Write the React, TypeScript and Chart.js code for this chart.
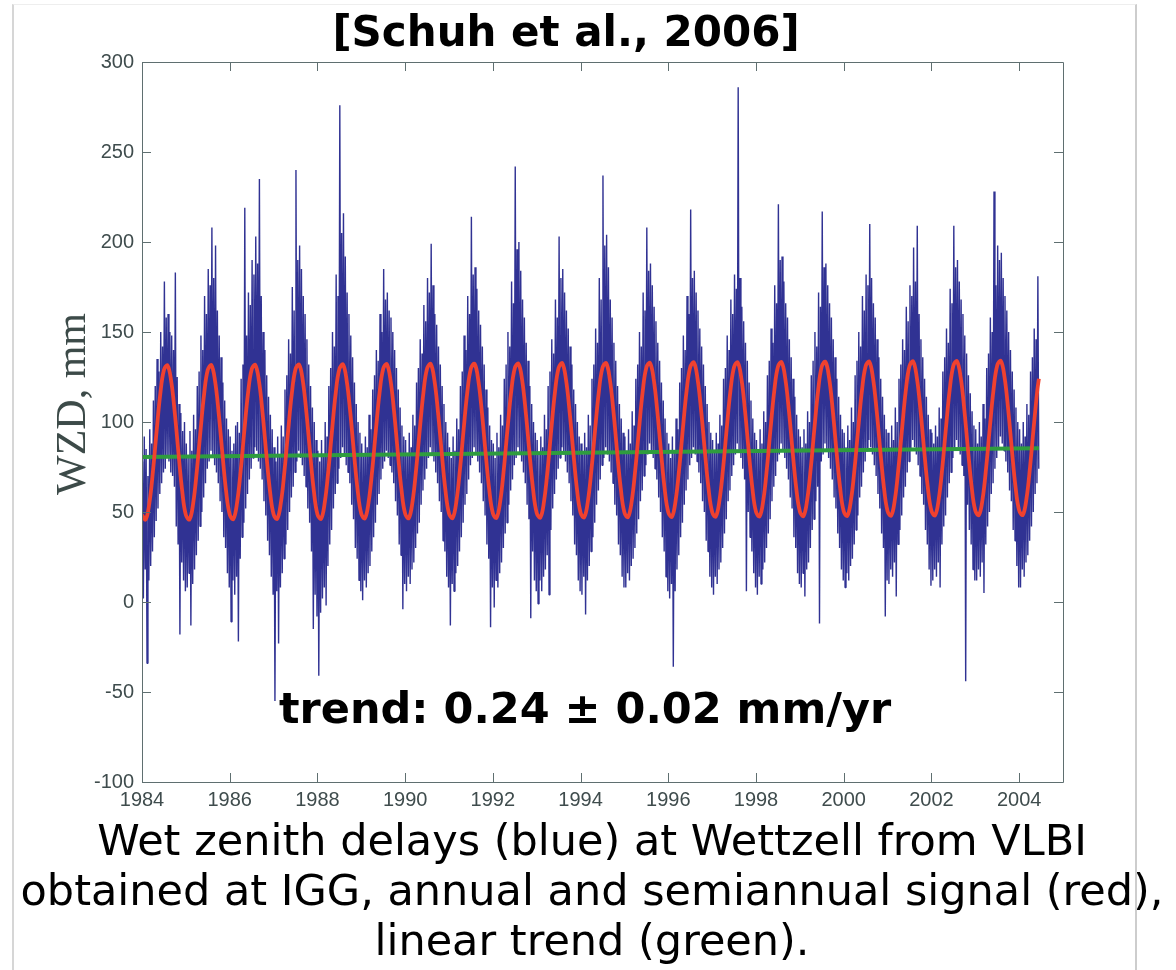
import React, { useEffect, useRef } from 'react';
import { Chart, registerables } from 'chart.js';

Chart.register(...registerables);

// ---------- axis ticks ----------
const xTickValues = [1984, 1986, 1988, 1990, 1992, 1994, 1996, 1998, 2000, 2002, 2004];
const yTickValues = [-100, -50, 0, 50, 100, 150, 200, 250, 300];
const X_MIN = 1984;
const X_MAX = 2005;

// ---------- wet zenith delays (blue), 48 samples per year: hi, lo, hi, lo per month ----------
const wzd1984 = [78,2,92,18, 85,-34,70,12, 96,20,88,28, 112,36,120,45, 135,52,128,60, 150,66,142,72, 178,74,158,80, 160,78,150,72, 148,70,140,64, 183,42,125,32, 110,-18,105,22, 95,12,100,6];
const wzd1985 = [88,8,80,16, 95,-13,84,10, 104,18,96,26, 120,34,128,42, 148,50,140,58, 170,66,160,74, 185,78,176,84, 208,80,180,76, 198,72,162,66, 148,56,136,50, 122,36,112,30, 102,16,96,8];
const wzd1986 = [92,-11,84,12, 88,4,98,14, 100,-22,94,24, 124,36,132,44, 219,52,148,60, 172,68,165,74, 190,80,182,86, 203,84,188,78, 235,74,170,68, 150,56,140,48, 126,34,114,26, 104,14,96,4];
const wzd1987 = [86,-55,78,6, 92,-23,82,8, 98,16,92,24, 118,32,126,40, 146,50,138,58, 175,64,162,72, 240,78,190,84, 198,80,185,76, 170,70,160,64, 146,52,132,44, 120,28,108,-15, 100,4,90,-8];
const wzd1988 = [84,-41,78,-6, 90,2,82,8, 100,-2,92,20, 120,32,130,40, 150,52,142,60, 182,66,170,74, 276,80,205,86, 216,82,192,76, 172,72,160,66, 148,54,136,46, 122,30,110,24, 100,12,94,6];
const wzd1989 = [88,1,82,12, 92,8,86,16, 104,20,96,28, 118,36,126,44, 140,54,134,60, 160,68,150,74, 185,78,168,84, 172,80,162,76, 158,72,150,66, 140,56,130,48, 118,32,108,26, 98,-4,92,10];
const wzd1990 = [90,6,82,14, 94,10,86,18, 104,22,98,30, 122,38,130,44, 146,54,138,62, 165,68,156,74, 180,80,172,86, 199,82,176,78, 160,72,154,66, 142,56,132,50, 120,34,110,28, 100,14,94,8];
const wzd1991 = [86,-13,80,10, 92,6,84,16, 102,20,96,28, 120,36,128,44, 148,54,140,60, 170,68,160,76, 214,80,182,86, 186,82,174,78, 162,72,154,66, 142,56,132,48, 118,32,108,24, 98,-14,90,8];
const wzd1992 = [88,-3,80,12, 94,8,86,16, 104,22,98,30, 124,38,132,44, 150,54,142,62, 178,68,166,76, 242,80,196,86, 200,82,184,78, 168,72,158,66, 144,54,134,46, 120,-9,110,28, 100,12,94,6];
const wzd1993 = [90,-1,82,12, 92,6,86,14, 104,18,96,26, 120,4,128,40, 146,52,138,60, 168,68,158,74, 203,80,180,86, 185,82,172,78, 162,72,152,66, 142,56,132,48, 118,32,110,26, 100,12,92,6];
const wzd1994 = [88,4,82,14, 94,-7,86,12, 104,20,98,28, 124,36,132,44, 152,54,144,62, 180,68,168,76, 237,80,198,86, 204,82,186,78, 168,72,158,66, 144,54,134,48, 120,32,110,26, 102,14,94,8];
const wzd1995 = [92,8,84,16, 96,12,88,20, 106,24,98,30, 124,38,132,46, 150,56,142,62, 172,70,162,76, 208,82,184,88, 188,84,176,80, 164,74,156,68, 144,58,134,50, 122,36,112,28, 102,14,94,6];
const wzd1996 = [88,2,80,10, 92,-36,84,6, 102,18,96,26, 122,36,130,44, 148,54,140,62, 170,68,160,76, 218,80,180,86, 184,82,172,78, 162,72,152,66, 142,56,132,50, 120,34,110,28, 100,14,94,8];
const wzd1997 = [90,4,84,14, 94,10,88,18, 104,22,98,30, 124,38,130,46, 148,56,140,62, 168,70,160,76, 182,82,174,88, 286,84,180,80, 164,74,156,68, 144,6,134,50, 122,36,112,28, 102,16,94,8];
const wzd1998 = [90,4,84,14, 96,10,88,18, 106,22,100,30, 126,38,134,46, 152,56,144,64, 176,70,166,78, 221,82,190,88, 192,84,178,80, 166,74,158,68, 146,58,136,52, 124,36,114,30, 104,16,96,10];
const wzd1999 = [92,8,86,16, 96,3,88,18, 106,22,100,30, 126,40,134,46, 150,56,142,64, 172,-12,164,78, 217,82,186,88, 188,84,176,80, 166,74,158,68, 146,58,136,52, 124,38,114,30, 104,18,96,12];
const wzd2000 = [94,8,86,16, 98,12,90,20, 108,24,100,32, 126,40,134,48, 150,58,142,64, 170,72,162,78, 182,84,176,90, 210,86,180,82, 166,76,158,70, 146,60,136,52, 124,38,114,30, 104,-8,96,12];
const wzd2001 = [94,10,86,18, 98,14,90,22, 108,3,100,32, 124,40,132,48, 146,58,140,64, 164,72,156,78, 176,84,170,90, 197,86,178,82, 209,76,160,70, 146,60,136,54, 124,40,114,32, 104,18,96,9];
const wzd2002 = [94,12,88,18, 98,14,92,22, 108,8,102,32, 128,42,136,48, 152,58,144,66, 174,72,166,80, 209,84,186,90, 190,86,178,82, 168,76,160,70, 148,-44,138,54, 126,40,116,32, 106,18,98,12];
const wzd2003 = [96,12,88,18, 100,14,92,22, 110,5,102,32, 130,42,138,50, 158,60,150,66, 228,74,176,80, 198,86,190,92, 194,88,180,84, 170,78,162,72, 150,62,140,56, 128,40,118,34, 108,20,100,8];
const wzd2004 = [96,8,88,18, 100,14,92,22, 110,26,104,34, 128,42,136,50, 152,60,146,66, 181,74];
const WZD_PER_YEAR = 48;

// ---------- annual + semiannual signal (red), monthly ----------
const sig1984 = [48.3,45.8,54.7,72.7,94.9,115.5,128.9,131.4,122.5,104.5,82.3,61.7];
const sig1985 = [48.4,45.9,54.8,72.8,95.0,115.6,129.0,131.5,122.6,104.6,82.4,61.8];
const sig1986 = [48.6,46.1,55.0,73.0,95.2,115.8,129.2,131.7,122.8,104.8,82.6,62.0];
const sig1987 = [48.7,46.2,55.1,73.1,95.3,115.9,129.3,131.8,122.9,104.9,82.7,62.1];
const sig1988 = [48.8,46.3,55.2,73.2,95.4,116.0,129.4,131.9,123.0,105.0,82.8,62.2];
const sig1989 = [49.0,46.5,55.4,73.4,95.6,116.2,129.6,132.1,123.2,105.2,83.0,62.4];
const sig1990 = [49.1,46.6,55.5,73.5,95.7,116.3,129.7,132.2,123.3,105.3,83.1,62.5];
const sig1991 = [49.2,46.7,55.6,73.6,95.8,116.4,129.8,132.3,123.4,105.4,83.2,62.6];
const sig1992 = [49.3,46.8,55.7,73.7,95.9,116.5,129.9,132.4,123.5,105.5,83.3,62.7];
const sig1993 = [49.5,47.0,55.9,73.9,96.1,116.7,130.1,132.6,123.7,105.7,83.5,62.9];
const sig1994 = [49.6,47.1,56.0,74.0,96.2,116.8,130.2,132.7,123.8,105.8,83.6,63.0];
const sig1995 = [49.7,47.2,56.1,74.1,96.3,116.9,130.3,132.8,123.9,105.9,83.7,63.1];
const sig1996 = [49.9,47.4,56.3,74.3,96.5,117.1,130.5,133.0,124.1,106.1,83.9,63.3];
const sig1997 = [50.0,47.5,56.4,74.4,96.6,117.2,130.6,133.1,124.2,106.2,84.0,63.4];
const sig1998 = [50.1,47.6,56.5,74.5,96.7,117.3,130.7,133.2,124.3,106.3,84.1,63.5];
const sig1999 = [50.3,47.8,56.7,74.7,96.9,117.5,130.9,133.4,124.5,106.5,84.3,63.7];
const sig2000 = [50.4,47.9,56.8,74.8,97.0,117.6,131.0,133.5,124.6,106.6,84.4,63.8];
const sig2001 = [50.5,48.0,56.9,74.9,97.1,117.7,131.1,133.6,124.7,106.7,84.5,63.9];
const sig2002 = [50.7,48.2,57.1,75.1,97.3,117.9,131.3,133.8,124.9,106.9,84.7,64.1];
const sig2003 = [50.8,48.3,57.2,75.2,97.4,118.0,131.4,133.9,125.0,107.0,84.8,64.2];
const sig2004 = [50.9,48.4,57.3,75.3,97.5,118.1,124.0];
const SIG_PER_YEAR = 12;

// ---------- linear trend (green) ----------
const trendYears = [1984, 2004.45];
const trendValues = [80.5, 85.4];

const wzdValues = [wzd1984, wzd1985, wzd1986, wzd1987, wzd1988, wzd1989, wzd1990, wzd1991, wzd1992, wzd1993, wzd1994, wzd1995, wzd1996, wzd1997, wzd1998, wzd1999, wzd2000, wzd2001, wzd2002, wzd2003, wzd2004].flat();
const sigValues = [sig1984, sig1985, sig1986, sig1987, sig1988, sig1989, sig1990, sig1991, sig1992, sig1993, sig1994, sig1995, sig1996, sig1997, sig1998, sig1999, sig2000, sig2001, sig2002, sig2003, sig2004].flat();

const AXIS_COLOR = '#5f6f70';
const LABEL_COLOR = '#3f4c4d';

const frameTicks = {
  id: 'frameTicks',
  afterDatasetsDraw(chart: any) {
    const { ctx, chartArea: a, scales } = chart;
    const x = scales.x;
    const y = scales.y;
    const L = 9;
    ctx.save();
    ctx.strokeStyle = AXIS_COLOR;
    ctx.lineWidth = 1;
    ctx.beginPath();
    ctx.rect(Math.round(a.left) + 0.5, Math.round(a.top) + 0.5, Math.round(a.right - a.left), Math.round(a.bottom - a.top));
    x.ticks.forEach((t: any) => {
      const px = Math.round(x.getPixelForValue(t.value)) + 0.5;
      ctx.moveTo(px, a.bottom);
      ctx.lineTo(px, a.bottom - L);
      ctx.moveTo(px, a.top);
      ctx.lineTo(px, a.top + L);
    });
    y.ticks.forEach((t: any) => {
      const py = Math.round(y.getPixelForValue(t.value)) + 0.5;
      ctx.moveTo(a.left, py);
      ctx.lineTo(a.left + L, py);
      ctx.moveTo(a.right, py);
      ctx.lineTo(a.right - L, py);
    });
    ctx.stroke();
    ctx.restore();
  },
};

export default function App() {
  const ref = useRef<HTMLCanvasElement | null>(null);

  useEffect(() => {
    if (!ref.current) return;
    const blue = wzdValues.map((v, i) => ({ x: X_MIN + (i + 0.5) / WZD_PER_YEAR, y: v }));
    const red = sigValues.map((v, i) => ({ x: X_MIN + i / SIG_PER_YEAR, y: v }));
    // last red point is the end of the fitted curve at the data end
    red[red.length - 1].x = trendYears[1];
    const green = trendYears.map((t, i) => ({ x: t, y: trendValues[i] }));
    const tickFont = { family: "'Liberation Sans', Arial, sans-serif", size: 20 };

    const chart = new Chart(ref.current, {
      type: 'line',
      data: {
        datasets: [
          {
            label: 'signal',
            data: red,
            borderColor: '#f0412f',
            borderWidth: 3.8,
            pointRadius: 0,
            tension: 0.4,
            order: 0,
          },
          {
            label: 'trend',
            data: green,
            borderColor: '#2f9c3f',
            borderWidth: 4,
            pointRadius: 0,
            order: 1,
          },
          {
            label: 'WZD',
            data: blue,
            borderColor: 'rgba(26,28,135,0.9)',
            borderWidth: 1.4,
            pointRadius: 0,
            tension: 0,
            borderJoinStyle: 'bevel',
            order: 2,
          },
        ],
      },
      options: {
        animation: false,
        responsive: false,
        devicePixelRatio: 1,
        layout: { padding: { left: 82, right: 113, top: 62, bottom: 148 } },
        plugins: { legend: { display: false }, tooltip: { enabled: false } },
        scales: {
          x: {
            type: 'linear',
            min: X_MIN,
            max: X_MAX,
            grid: { display: false, drawTicks: false },
            border: { display: false },
            afterBuildTicks: (s: any) => {
              s.ticks = xTickValues.map((v) => ({ value: v }));
            },
            afterFit: (s: any) => {
              s.height = 40;
            },
            ticks: {
              padding: 6,
              font: tickFont,
              color: LABEL_COLOR,
              maxRotation: 0,
              autoSkip: false,
              callback: (v: any) => String(v),
            },
          },
          y: {
            type: 'linear',
            min: -100,
            max: 300,
            grid: { display: false, drawTicks: false },
            border: { display: false },
            afterBuildTicks: (s: any) => {
              s.ticks = yTickValues.map((v) => ({ value: v }));
            },
            afterFit: (s: any) => {
              s.width = 60;
            },
            ticks: {
              padding: 8,
              font: tickFont,
              color: LABEL_COLOR,
              autoSkip: false,
              callback: (v: any) => String(v),
            },
          },
        },
      },
      plugins: [frameTicks],
    } as any);
    return () => chart.destroy();
  }, []);

  const sans = "'DejaVu Sans', Verdana, sans-serif";
  const captionLine: React.CSSProperties = {
    position: 'absolute',
    left: 592,
    transform: 'translateX(-50%)',
    whiteSpace: 'nowrap',
    fontFamily: sans,
    fontSize: 43,
    lineHeight: '50px',
    color: '#000',
  };

  return (
    <div style={{ position: 'absolute', left: 0, top: 0, width: 1176, height: 970, overflow: 'hidden', background: '#ffffff' }}>
      <canvas ref={ref} width={1176} height={970} style={{ position: 'absolute', left: 0, top: 0, width: 1176, height: 970 }} />
      <div
        style={{
          position: 'absolute',
          left: 566,
          top: 11,
          transform: 'translateX(-50%)',
          whiteSpace: 'nowrap',
          fontFamily: sans,
          fontWeight: 'bold',
          fontSize: 42,
          lineHeight: '42px',
          color: '#000',
        }}
      >
        [Schuh et al., 2006]
      </div>
      <div
        style={{
          position: 'absolute',
          left: 71,
          top: 404,
          transform: 'translate(-50%, -50%) rotate(-90deg)',
          whiteSpace: 'nowrap',
          fontFamily: "'Liberation Serif', 'Times New Roman', serif",
          fontSize: 42,
          lineHeight: '42px',
          color: '#3c4a48',
        }}
      >
        WZD, mm
      </div>
      <div
        style={{
          position: 'absolute',
          left: 279,
          top: 687,
          whiteSpace: 'nowrap',
          fontFamily: sans,
          fontWeight: 'bold',
          fontSize: 43,
          lineHeight: '43px',
          color: '#000',
        }}
      >
        trend: 0.24 ± 0.02 mm/yr
      </div>
      <div style={{ ...captionLine, top: 815 }}>Wet zenith delays (blue) at Wettzell from VLBI</div>
      <div style={{ ...captionLine, top: 865 }}>obtained at IGG, annual and semiannual signal (red),</div>
      <div style={{ ...captionLine, top: 915 }}>linear trend (green).</div>
      <div
        style={{
          position: 'absolute',
          left: 12,
          top: 4,
          width: 1121,
          height: 1000,
          borderLeft: '2px solid #d6d6d6',
          borderRight: '2px solid #cdcdcd',
          borderTop: '1px solid #eeeeee',
          pointerEvents: 'none',
        }}
      />
    </div>
  );
}
